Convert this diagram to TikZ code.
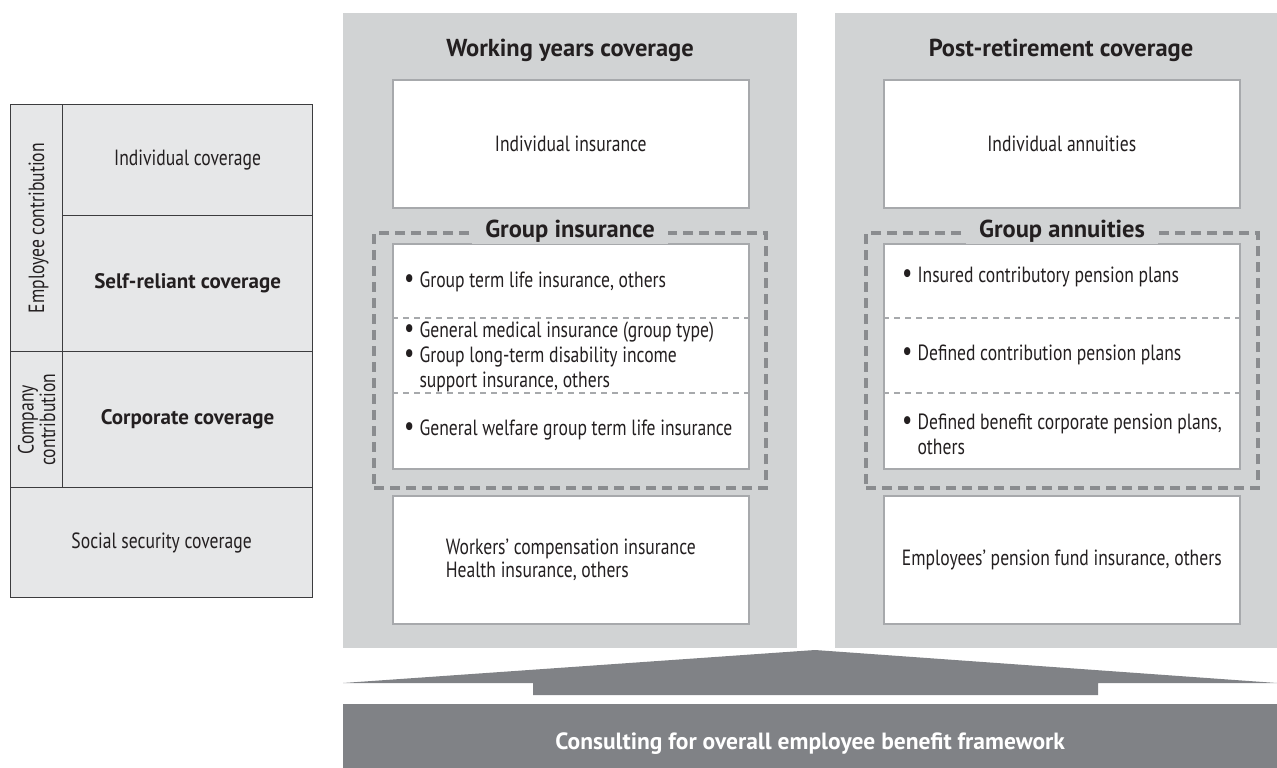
\documentclass[tikz,border=0pt]{standalone}
\usepackage{fontspec}
\setmainfont{PT Sans}[FakeStretch=0.8]
\newfontfamily\boldfam{PT Sans Bold}
\usetikzlibrary{positioning}

\definecolor{panelgray}{HTML}{D1D3D4}
\definecolor{leftgray}{HTML}{E6E7E8}
\definecolor{cellline}{HTML}{3C3C3E}
\definecolor{boxline}{HTML}{A7A9AC}
\definecolor{groupline}{HTML}{8A8C8F}
\definecolor{bargray}{HTML}{808286}
\definecolor{inkgray}{HTML}{231F20}

\newcommand{\txt}{\fontsize{22}{23.5}\selectfont}
\newcommand{\ttl}{\fontsize{24.5}{27}\boldfam}
\newcommand{\bul}{\smash{\scalebox{1.3}{\textbullet}}}

\begin{document}
\begin{tikzpicture}[x=1pt, y=-1pt,
  every node/.style={inner sep=0pt, text=inkgray, font=\txt},
  cell/.style={draw=cellline, line width=1.2pt, fill=leftgray, anchor=north west},
  panel/.style={fill=panelgray, anchor=north west, minimum height=635},
  whitebox/.style={draw=boxline, line width=1.6pt, fill=white, anchor=north west, minimum width=356},
  groupbox/.style={draw=groupline, line width=4pt, dash pattern=on 10pt off 6pt, anchor=north west, minimum width=392, minimum height=255},
  grouplabel/.style={fill=panelgray, inner xsep=13pt, inner ysep=2pt, font=\ttl},
  divider/.style={draw=boxline, line width=1.4pt, dash pattern=on 6pt off 5pt},
  item/.style={anchor=west, align=left},
  multiitem/.style={anchor=west, align=left, font=\fontsize{22}{25}\selectfont},
  title/.style={font=\ttl},
  celltitle/.style={font=\fontsize{21}{24}\boldfam}]
	\useasboundingbox (0,0) rectangle (1277,768);

	% left column
	\node [cell, minimum width=52,  minimum height=247] (empcol)  at (10,104)  {};
	\node [cell, minimum width=52,  minimum height=136] (compcol) at (10,351)  {};
	\node [cell, minimum width=250, minimum height=111] (indcov)  at (62,104)  {};
	\node [cell, minimum width=250, minimum height=136] (selfcov) at (62,215)  {};
	\node [cell, minimum width=250, minimum height=136] (corpcov) at (62,351)  {};
	\node [cell, minimum width=302, minimum height=110] (soccov)  at (10,487)  {};

	\node [rotate=90]               (emptext)  at ([xshift=2pt]empcol.center)  {Employee contribution};
	\node [rotate=90, align=center, font=\fontsize{22}{21.5}\selectfont] (comptext) at (compcol.center) {Company\\contribution};
	\node                           (indtext)  at (indcov.center)  {Individual coverage};
	\node [celltitle]               (selftext) at (selfcov.center) {Self-reliant coverage};
	\node [celltitle]               (corptext) at (corpcov.center) {Corporate coverage};
	\node                           (soctext)  at (soccov.center)  {Social security coverage};

	% the two coverage panels
	\node [panel, minimum width=454] (work) at (343,13) {};
	\node [panel, minimum width=442] (post) at (835,13) {};
	\node [title] (worktitle) at (570,50)  {Working years coverage};
	\node [title] (posttitle) at (1061,50) {Post-retirement coverage};

	\node [whitebox, minimum height=128] (indins) at (392,79) {Individual insurance};
	\node [whitebox, minimum height=128] (indann) at (883,79) {Individual annuities};

	\node [groupbox] (grpins) at (372,231) {};
	\node [groupbox] (grpann) at (864,231) {};
	\node [whitebox, minimum height=225] (insbox) at (392,243) {};
	\node [whitebox, minimum height=225] (annbox) at (883,243) {};
	\node [grouplabel] (grpinslabel) at (grpins.north) {Group insurance};
	\node [grouplabel] (grpannlabel) at (grpann.north) {Group annuities};

	\draw [divider] (insbox.west |- 0,318) -- (insbox.east |- 0,318);
	\draw [divider] (insbox.west |- 0,393) -- (insbox.east |- 0,393);
	\draw [divider] (annbox.west |- 0,318) -- (annbox.east |- 0,318);
	\draw [divider] (annbox.west |- 0,393) -- (annbox.east |- 0,393);

	\node [item] (ins1) at (404,282) {\bul\hspace{5pt}Group term life insurance, others};
	\node [multiitem] (ins2) at (404,357) {\bul\hspace{5pt}General medical insurance (group type)\\ \bul\hspace{5pt}Group long-term disability income\\ \phantom{\bul}\hspace{5pt}support insurance, others};
	\node [item] (ins3) at (404,430) {\bul\hspace{5pt}General welfare group term life insurance};
	\node [item] (ann1) at (902,277) {\bul\hspace{5pt}Insured contributory pension plans};
	\node [item] (ann2) at (902,355) {\bul\hspace{5pt}Defined contribution pension plans};
	\node [multiitem] (ann3) at (902,434) {\bul\hspace{5pt}Defined benefit corporate pension plans,\\ \phantom{\bul}\hspace{5pt}others};

	\node [whitebox, minimum height=128, align=left] (pubins) at (392,495) {Workers’ compensation insurance\\Health insurance, others};
	\node [whitebox, minimum height=128] (pubann) at (883,495) {Employees’ pension fund insurance, others};

	% consulting arrow and bar
	\fill [bargray] (343,683) -- (815,650) -- (1277,683) -- (1098,683) -- (1098,695) -- (533,695) -- (533,683) -- cycle;
	\node [fill=bargray, anchor=north west, minimum width=934, minimum height=64] (consult) at (343,704) {};
	\node [text=white, font=\fontsize{23.5}{26}\boldfam] (consulttext) at ([yshift=-7pt]consult.center) {Consulting for overall employee benefit framework};
\end{tikzpicture}
\end{document}
